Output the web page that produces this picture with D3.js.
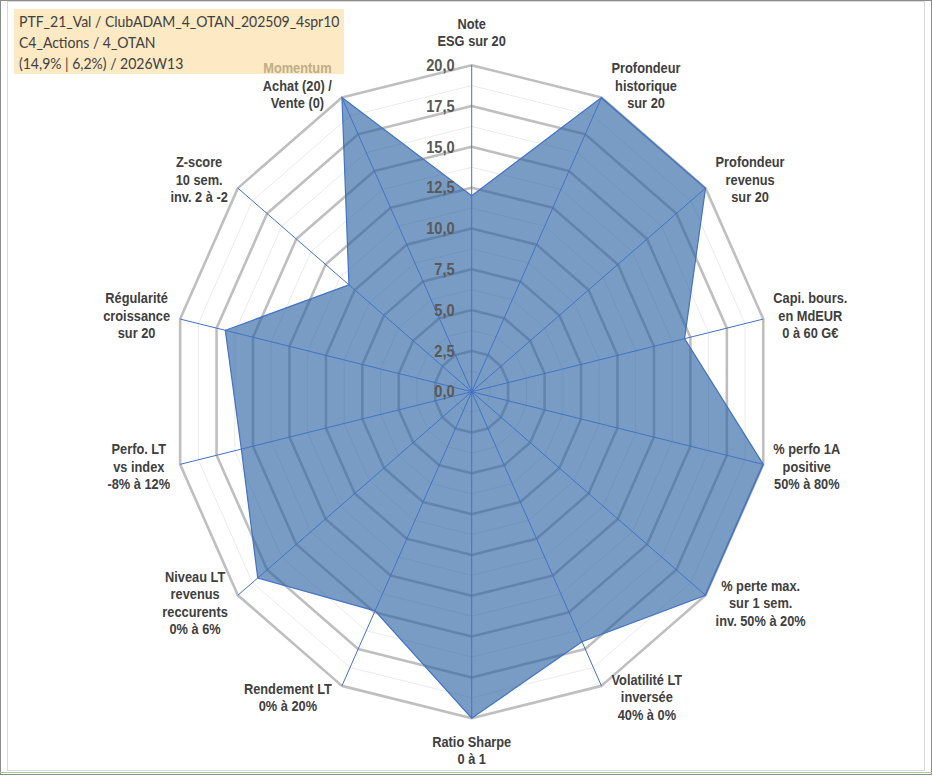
<!DOCTYPE html>
<html>
<head>
  <meta charset="utf-8">
  <title>Radar</title>
  <script src="https://d3js.org/d3.v7.min.js"></script>
  <style>
    body { margin: 0; background: #fff; }
  </style>
</head>
<body>
<div id="chart"></div>
<script>
  // axes, clockwise from the top
  const categories = [
    "Note\nESG sur 20",
    "Profondeur\nhistorique\nsur 20",
    "Profondeur\nrevenus\nsur 20",
    "Capi. bours.\nen MdEUR\n0 à 60 G€",
    "% perfo 1A\npositive\n50% à 80%",
    "% perte max.\nsur 1 sem.\ninv. 50% à 20%",
    "Volatilité LT\ninversée\n40% à 0%",
    "Ratio Sharpe\n0 à 1",
    "Rendement LT\n0% à 20%",
    "Niveau LT\nrevenus\nreccurents\n0% à 6%",
    "Perfo. LT\nvs index\n-8% à 12%",
    "Régularité\ncroissance\nsur 20",
    "Z-score\n10 sem.\ninv. 2 à -2",
    "Momentum\nAchat (20) /\nVente (0)"
  ];
  const values = [12, 20, 20, 14.6, 20, 20, 17, 20, 14.9, 18.3, 15.8, 16.9, 10.5, 20];
  const ticks = [0, 2.5, 5, 7.5, 10, 12.5, 15, 17.5, 20];
  const minorTicks = [1.25, 3.75, 6.25, 8.75, 11.25, 13.75, 16.25, 18.75];
  const titleLines = [
    "PTF_21_Val / ClubADAM_4_OTAN_202509_4spr10",
    "C4_Actions / 4_OTAN",
    "(14,9% | 6,2%) / 2026W13"
  ];

  const width = 932, height = 776;
  const cx = 471.7, cy = 391.7, R = 326.5;
  const kx = 0.916; // the picture is squeezed horizontally
  const font = "'Liberation Sans', Arial, sans-serif";

  const svg = d3.select('#chart').append('svg')
      .attr('width', width)
      .attr('height', height);

  // frame
  svg.append('rect')
     .attr('x', 0.5).attr('y', 0.5).attr('width', width - 1).attr('height', height - 2)
     .attr('fill', 'none').attr('stroke', '#8c8c8c');
  svg.append('rect')
     .attr('x', 7.5).attr('y', 1.5).attr('width', 917).attr('height', 769)
     .attr('fill', '#fff').attr('stroke', '#d9d9d9');
  svg.append('line')
     .attr('x1', 0).attr('x2', width).attr('y1', 772.5).attr('y2', 772.5)
     .attr('stroke', '#a9d08e');

  // title box
  svg.append('rect')
     .attr('x', 14).attr('y', 9).attr('width', 330).attr('height', 65)
     .attr('fill', '#fde9c3');
  svg.append('g').selectAll('text')
     .data(titleLines).join('text')
     .attr('transform', (d, j) => `translate(19,${27 + j * 20.8}) scale(${kx},1)`)
     .attr('font-family', "Lato, 'Open Sans', sans-serif")
     .attr('font-size', '15.3px')
     .attr('fill', '#404040')
     .text(d => d);

  const rScale = d3.scaleLinear().domain([0, 20]).range([0, R]);
  const aScale = d3.scaleLinear().domain([0, categories.length]).range([0, 2 * Math.PI]);
  const idx = d3.range(categories.length);

  const pt = (i, v) => {
    const a = aScale(i);
    return [cx + rScale(v) * Math.sin(a) * kx, cy - rScale(v) * Math.cos(a)];
  };
  const ring = v => d3.line()(idx.map(i => pt(i, v))) + 'Z';

  // gridlines
  svg.append('g').selectAll('path')
     .data(minorTicks).join('path')
     .attr('d', ring)
     .attr('fill', 'none')
     .attr('stroke', '#ebebeb')
     .attr('stroke-width', 1);
  svg.append('g').selectAll('path')
     .data(ticks.filter(t => t > 0)).join('path')
     .attr('d', ring)
     .attr('fill', 'none')
     .attr('stroke', '#bfbfbf')
     .attr('stroke-width', 2.6)
     .attr('stroke-linejoin', 'round');

  // series
  const area = d3.line()(values.map((v, i) => pt(i, v))) + 'Z';
  svg.append('path')
     .attr('d', area)
     .attr('fill', '#2b62a3')
     .attr('fill-opacity', 0.63);

  // spokes
  svg.append('g').selectAll('line')
     .data(idx).join('line')
     .attr('x1', cx).attr('y1', cy)
     .attr('x2', i => pt(i, 20)[0])
     .attr('y2', i => pt(i, 20)[1])
     .attr('stroke', '#4472c4')
     .attr('stroke-width', 1);

  svg.append('path')
     .attr('d', area)
     .attr('fill', 'none')
     .attr('stroke', '#4472c4')
     .attr('stroke-width', 1.2);

  // radial tick labels
  const fmt = d3.format('.1f');
  svg.append('g').selectAll('text')
     .data(ticks).join('text')
     .attr('transform', t => `translate(${cx - 17},${cy - rScale(t)}) scale(${kx},1)`)
     .attr('text-anchor', 'end')
     .attr('dominant-baseline', 'central')
     .attr('font-family', font)
     .attr('font-weight', 'bold')
     .attr('font-size', '16px')
     .attr('fill', '#595959')
     .text(t => fmt(t).replace('.', ','));

  // category labels
  const lh = 17.5;
  idx.forEach(i => {
    const lines = categories[i].split('\n');
    const g = svg.append('g');
    const texts = g.selectAll('text')
       .data(lines).join('text')
       .attr('text-anchor', 'middle')
       .attr('dominant-baseline', 'central')
       .attr('font-family', font)
       .attr('font-weight', 'bold')
       .attr('font-size', '14px')
       .attr('fill', (d, j) => (i === 13 && j === 0) ? '#c0ad86' : '#404040')
       .text(d => d);
    const w = d3.max(texts.nodes(), n => n.getComputedTextLength()) * kx;
    const h = lines.length * lh;
    const a = aScale(i), s = Math.sin(a), c = Math.cos(a);
    const [px, py] = pt(i, 20);
    let x, y;
    if (Math.abs(s) < 0.01) {
      x = px;
      y = py - Math.sign(c) * (15 + h / 2);
    } else {
      x = px + Math.sign(s) * (10 + w / 2);
      y = py - c * 13;
    }
    texts.attr('transform', (d, j) =>
      `translate(${x},${y - h / 2 + lh * (j + 0.5)}) scale(${kx},1)`);
  });
</script>
</body>
</html>
